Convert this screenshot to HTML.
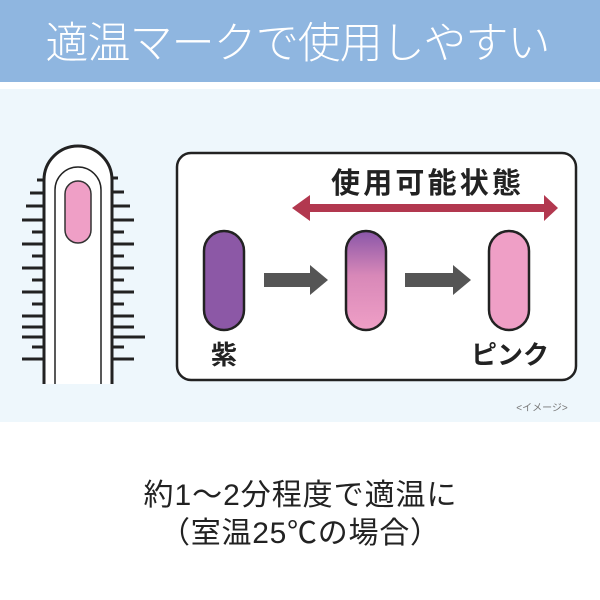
<!DOCTYPE html>
<html><head><meta charset="utf-8"><style>
html,body{margin:0;padding:0;background:#fff;}
svg{display:block;}
text{font-family:"Liberation Sans","Noto Sans CJK JP",sans-serif;}
</style></head><body>
<svg width="600" height="600" viewBox="0 0 600 600" xmlns="http://www.w3.org/2000/svg">
<defs>
<linearGradient id="g" x1="0" y1="0" x2="0" y2="1">
<stop offset="0" stop-color="#8a56a8"/>
<stop offset="0.45" stop-color="#d888b8"/>
<stop offset="1" stop-color="#ef9fc6"/>
</linearGradient>
</defs>
<rect x="0" y="0" width="600" height="82" fill="#8fb6e0"/>
<rect x="0" y="89" width="600" height="333" fill="#eef7fc"/>
<text x="298" y="58" font-size="43" font-weight="300" fill="#fff" text-anchor="middle" textLength="505" font-family="Noto Sans CJK JP">適温マークで使用しやすい</text>

<!-- tube -->
<g stroke="#222" stroke-width="3">
<line x1="37" y1="180" x2="46" y2="180"/><line x1="30" y1="193" x2="46" y2="193"/>
<line x1="26" y1="206" x2="46" y2="206"/><line x1="22" y1="220" x2="46" y2="220"/>
<line x1="32" y1="232" x2="46" y2="232"/><line x1="22" y1="244" x2="46" y2="244"/>
<line x1="32" y1="256" x2="46" y2="256"/><line x1="22" y1="268" x2="46" y2="268"/>
<line x1="32" y1="280" x2="46" y2="280"/><line x1="22" y1="292" x2="46" y2="292"/>
<line x1="32" y1="304" x2="46" y2="304"/><line x1="22" y1="316" x2="46" y2="316"/>
<line x1="22" y1="327" x2="46" y2="327"/><line x1="22" y1="337" x2="46" y2="337"/>
<line x1="32" y1="347" x2="46" y2="347"/><line x1="22" y1="359" x2="46" y2="359"/>
<line x1="110" y1="178" x2="118" y2="178"/><line x1="110" y1="192" x2="124" y2="192"/>
<line x1="110" y1="206" x2="130" y2="206"/><line x1="110" y1="220" x2="134" y2="220"/>
<line x1="110" y1="232" x2="124" y2="232"/><line x1="110" y1="244" x2="134" y2="244"/>
<line x1="110" y1="256" x2="124" y2="256"/><line x1="110" y1="268" x2="134" y2="268"/>
<line x1="110" y1="280" x2="124" y2="280"/><line x1="110" y1="292" x2="134" y2="292"/>
<line x1="110" y1="304" x2="124" y2="304"/><line x1="110" y1="316" x2="134" y2="316"/>
<line x1="110" y1="327" x2="134" y2="327"/><line x1="110" y1="337" x2="145" y2="337"/>
<line x1="110" y1="347" x2="124" y2="347"/><line x1="110" y1="359" x2="134" y2="359"/>
</g>
<path d="M44 384 V180 A34 34 0 0 1 112 180 V384" fill="#fff" stroke="#222" stroke-width="3"/>
<path d="M55 384 V190 A23 23 0 0 1 101 190 V384" fill="none" stroke="#222" stroke-width="1.5"/>
<rect x="65" y="181" width="26" height="62" rx="13" fill="#ef9fc6" stroke="#333" stroke-width="1.5"/>

<!-- box -->
<rect x="177" y="153" width="399" height="227" rx="14" fill="#fff" stroke="#222" stroke-width="2.5"/>
<text x="426" y="193" font-size="29" font-weight="bold" fill="#222" text-anchor="middle" textLength="190" font-family="Noto Sans CJK JP">使用可能状態</text>
<path d="M292 208 L310 195 V204 H544 V195 L558 208 L544 221 V212 H310 V221 Z" fill="#b2384f"/>
<rect x="204" y="231" width="40" height="99" rx="20" fill="#8c58a6" stroke="#222" stroke-width="2.5"/>
<rect x="346" y="231" width="40" height="99" rx="20" fill="url(#g)" stroke="#222" stroke-width="2.5"/>
<rect x="489" y="231" width="40" height="99" rx="20" fill="#ef9fc6" stroke="#222" stroke-width="2.5"/>
<path d="M264 273 H310 V265 L328 280 L310 295 V287 H264 Z" fill="#555"/>
<path d="M405 273 H453 V265 L471 280 L453 295 V287 H405 Z" fill="#555"/>
<text x="224" y="364" font-size="26" font-weight="bold" fill="#222" text-anchor="middle" font-family="Noto Sans CJK JP">紫</text>
<text x="510" y="364" font-size="26" font-weight="bold" fill="#222" text-anchor="middle" font-family="Noto Sans CJK JP">ピンク</text>
<text x="542" y="411" font-size="10" fill="#777" text-anchor="middle" font-family="Noto Sans CJK JP">&lt;イメージ&gt;</text>

<text x="300" y="505" font-size="30" fill="#222" text-anchor="middle" textLength="313" font-family="Noto Sans CJK JP">約1～2分程度で適温に</text>
<text x="300" y="543" font-size="30" fill="#222" text-anchor="middle" textLength="280" font-family="Noto Sans CJK JP">（室温25℃の場合）</text>
</svg>
</body></html>
